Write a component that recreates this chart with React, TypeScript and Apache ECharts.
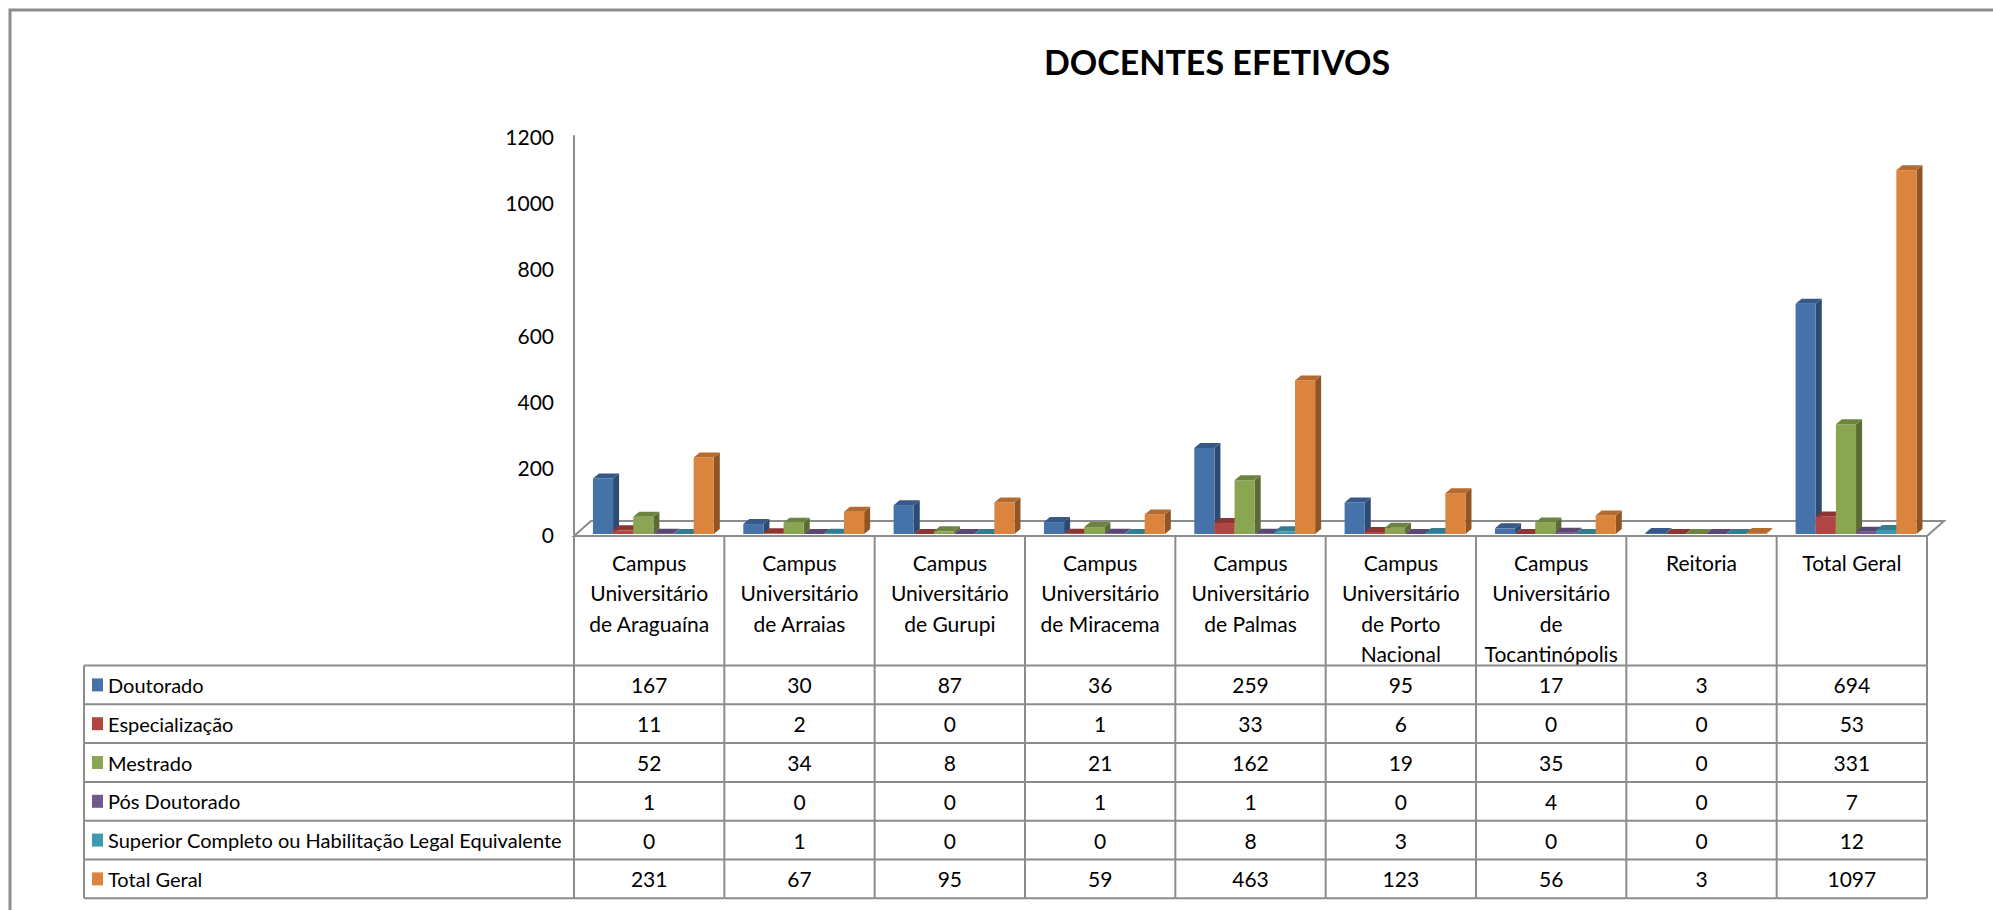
import React, { useEffect, useRef } from "react";
import * as echarts from "echarts";

// ---------- data ----------
const categories = [
  "Campus Universitário de Araguaína",
  "Campus Universitário de Arraias",
  "Campus Universitário de Gurupi",
  "Campus Universitário de Miracema",
  "Campus Universitário de Palmas",
  "Campus Universitário de Porto Nacional",
  "Campus Universitário de Tocantinópolis",
  "Reitoria",
  "Total Geral",
];
const headerLabels = [
  "Campus\nUniversitário\nde Araguaína",
  "Campus\nUniversitário\nde Arraias",
  "Campus\nUniversitário\nde Gurupi",
  "Campus\nUniversitário\nde Miracema",
  "Campus\nUniversitário\nde Palmas",
  "Campus\nUniversitário\nde Porto\nNacional",
  "Campus\nUniversitário\nde\nTocantinópolis",
  "Reitoria",
  "Total Geral",
];
const seriesNames = [
  "Doutorado",
  "Especialização",
  "Mestrado",
  "Pós Doutorado",
  "Superior Completo ou Habilitação Legal Equivalente",
  "Total Geral",
];
const doutorado = [167, 30, 87, 36, 259, 95, 17, 3, 694];
const especializacao = [11, 2, 0, 1, 33, 6, 0, 0, 53];
const mestrado = [52, 34, 8, 21, 162, 19, 35, 0, 331];
const posDoutorado = [1, 0, 0, 1, 1, 0, 4, 0, 7];
const superiorCompleto = [0, 1, 0, 0, 8, 3, 0, 0, 12];
const totalGeral = [231, 67, 95, 59, 463, 123, 56, 3, 1097];
const seriesValues = [doutorado, especializacao, mestrado, posDoutorado, superiorCompleto, totalGeral];
const yTicks = [0, 200, 400, 600, 800, 1000, 1200];

// ---------- styles ----------
const FONT = "Lato, 'Open Sans', sans-serif";
const FS = 21;
const FS_LEGEND = 20;
const frontColors = ["#4573A9", "#B04543", "#8BA653", "#71598F", "#3E9AB3", "#DB843D"];
const topColors = ["#36598A", "#8C3533", "#6D8441", "#5A4773", "#327D91", "#B56A2E"];
const sideColors = ["#2D4B72", "#762D2B", "#5A6C34", "#4A3A5F", "#296778", "#915424"];
const GRAY = "#8c8c8c";

const W = 1993;
const H = 910;
const GRID_LEFT = 574;
const GRID_RIGHT = 1927;
const GRID_TOP = 136;
const GRID_BOTTOM = 534;
const FLOOR_FRONT = 536;
const FLOOR_DX = 17;
const FLOOR_DY = 15;
const TABLE_TOP = 665.5;
const ROW_H = 38.8;
const TABLE_LEFT = 84;
const TABLE_BOTTOM = TABLE_TOP + ROW_H * 6;

function makeBarRender(k: number) {
  return (params: any, api: any) => {
    const i = api.value(0);
    const v = api.value(1);
    const p0 = api.coord([i, 0]);
    const p1 = api.coord([i, v]);
    const band = api.size([1, 0])[0];
    const bw = band * 0.134;
    const x0 = p0[0] - band / 2 + band * 0.126 + k * bw;
    const yb = p0[1];
    const yt = p1[1];
    const dx = 6;
    const dy = 5;
    return {
      type: "group",
      children: [
        {
          type: "polygon",
          shape: { points: [[x0 + bw, yt], [x0 + bw + dx, yt - dy], [x0 + bw + dx, yb - dy], [x0 + bw, yb]] },
          style: { fill: sideColors[k] },
        },
        {
          type: "rect",
          shape: { x: x0, y: yt, width: bw, height: Math.max(yb - yt, 0) },
          style: { fill: frontColors[k] },
        },
        {
          type: "polygon",
          shape: { points: [[x0, yt], [x0 + dx, yt - dy], [x0 + bw + dx, yt - dy], [x0 + bw, yt]] },
          style: { fill: topColors[k] },
        },
      ],
    };
  };
}

function tableRender(params: any, api: any) {
  const i = api.value(0);
  const xc = api.coord([i, 0])[0];
  const band = api.size([1, 0])[0];
  const left = xc - band / 2;
  const right = xc + band / 2;
  const children: any[] = [];
  const lineStyle = { stroke: GRAY, lineWidth: 2 };
  children.push({ type: "line", shape: { x1: right, y1: FLOOR_FRONT, x2: right, y2: TABLE_BOTTOM }, style: lineStyle });
  if (i === 0) {
    children.push({ type: "line", shape: { x1: left, y1: FLOOR_FRONT, x2: left, y2: TABLE_BOTTOM }, style: lineStyle });
  }
  for (let r = 0; r <= 6; r++) {
    const y = TABLE_TOP + r * ROW_H;
    children.push({ type: "line", shape: { x1: left, y1: y, x2: right, y2: y }, style: lineStyle });
  }
  for (let r = 0; r < 6; r++) {
    const y = TABLE_TOP + (r + 0.5) * ROW_H;
    children.push({
      type: "text",
      x: xc,
      y: y,
      style: {
        text: String(seriesValues[r][i]),
        fill: "#000",
        font: `${FS}px ${FONT}`,
        textAlign: "center",
        textVerticalAlign: "middle",
        align: "center",
        verticalAlign: "middle",
      },
    });
  }
  return { type: "group", children };
}

export default function App() {
  const ref = useRef<HTMLDivElement>(null);
  useEffect(() => {
    document.body.style.margin = "0";
    document.body.style.overflow = "hidden";
    const chart = echarts.init(ref.current!, null, { renderer: "svg" });

    const nameLines: any[] = [];
    for (let r = 0; r <= 6; r++) {
      const y = TABLE_TOP + r * ROW_H;
      nameLines.push({ type: "line", shape: { x1: TABLE_LEFT, y1: y, x2: GRID_LEFT, y2: y }, style: { stroke: GRAY, lineWidth: 2 } });
    }
    nameLines.push({ type: "line", shape: { x1: TABLE_LEFT, y1: TABLE_TOP, x2: TABLE_LEFT, y2: TABLE_BOTTOM }, style: { stroke: GRAY, lineWidth: 2 } });

    const option: any = {
      animation: false,
      backgroundColor: "#fff",
      title: {
        text: "DOCENTES EFETIVOS",
        left: 1212,
        top: 39,
        textAlign: "center",
        textStyle: { fontSize: 34, fontWeight: "bold", fontFamily: FONT, color: "#000" },
      },
      legend: {
        orient: "vertical",
        left: 92,
        top: TABLE_TOP + ROW_H / 2 - 12,
        padding: 0,
        itemWidth: 11,
        itemHeight: 13,
        itemGap: ROW_H - 24,
        icon: "rect",
        selectedMode: false,
        data: seriesNames,
        textStyle: { fontSize: FS_LEGEND, lineHeight: 24, fontFamily: FONT, color: "#000" },
      },
      grid: { left: GRID_LEFT, right: W - GRID_RIGHT, top: GRID_TOP, bottom: H - GRID_BOTTOM, containLabel: false },
      xAxis: {
        type: "category",
        data: headerLabels,
        axisLine: { show: false },
        axisTick: { show: false },
        splitLine: { show: false },
        axisLabel: { interval: 0, margin: 13, fontSize: FS, lineHeight: 30.5, color: "#000", fontFamily: FONT },
      },
      yAxis: {
        type: "value",
        min: yTicks[0],
        max: yTicks[yTicks.length - 1],
        interval: yTicks[1] - yTicks[0],
        axisLine: { show: true, lineStyle: { color: GRAY, width: 2 } },
        axisTick: { show: false },
        splitLine: { show: false },
        axisLabel: {
          margin: 20,
          fontSize: FS,
          color: "#000",
          fontFamily: FONT,
          formatter: (v: number) => String(v),
        },
      },
      graphic: [
        {
          type: "rect",
          z: -10,
          shape: { x: 10, y: 10, width: 2100, height: 1000 },
          style: { fill: "none", stroke: GRAY, lineWidth: 3 },
        },
        {
          type: "polygon",
          z: -5,
          shape: {
            points: [
              [GRID_LEFT, FLOOR_FRONT],
              [GRID_LEFT + FLOOR_DX, FLOOR_FRONT - FLOOR_DY],
              [GRID_RIGHT + FLOOR_DX, FLOOR_FRONT - FLOOR_DY],
              [GRID_RIGHT, FLOOR_FRONT],
            ],
          },
          style: { fill: "#fff", stroke: GRAY, lineWidth: 2 },
        },
        { type: "group", z: -5, children: nameLines },
      ],
      series: [
        ...seriesNames.map((name, k) => ({
          type: "custom",
          name,
          clip: false,
          itemStyle: { color: frontColors[k] },
          renderItem: makeBarRender(k),
          encode: { x: 0, y: 1 },
          data: seriesValues[k].map((v, i) => [i, v]),
        })),
        {
          type: "custom",
          name: "table",
          clip: false,
          silent: true,
          renderItem: tableRender,
          encode: { x: 0, y: 1 },
          data: categories.map((_, i) => [i, 0]),
        },
      ],
    };
    chart.setOption(option);
    return () => chart.dispose();
  }, []);
  return <div ref={ref} style={{ width: W, height: H }} />;
}
